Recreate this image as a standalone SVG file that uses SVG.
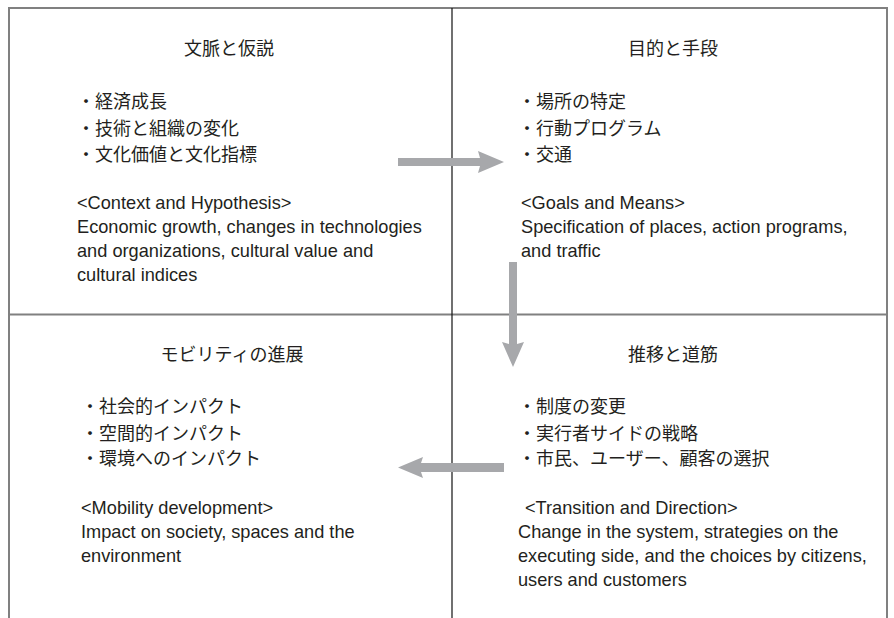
<svg xmlns="http://www.w3.org/2000/svg" width="894" height="618" viewBox="0 0 894 618">
<style>
.jp{font-family:"Noto Sans CJK JP","Noto Sans",sans-serif;font-size:18px;fill:#231f20}
.en{font-family:"Liberation Sans",Arial,sans-serif;font-size:18.2px;fill:#231f20}
.ttl{text-anchor:middle}
.frame{stroke:#808080;stroke-width:2;fill:none}
.mid{stroke:#111;stroke-width:1.2;fill:none}
.arrow{fill:#a7a8ab;stroke:none}
</style>
<rect width="894" height="618" fill="#fff"/>
<g id="frame">
<path class="frame" d="M9,618 V8 H887 V618"/>
<path class="frame" d="M9,314.5 H887"/>
<path class="mid" d="M452,8 V618"/>
</g>
<g id="context">
<text class="jp ttl" x="229" y="55">文脈と仮説</text>
<text class="jp" x="77" y="108">・経済成長</text>
<text class="jp" x="77" y="135">・技術と組織の変化</text>
<text class="jp" x="77" y="161">・文化価値と文化指標</text>
<text class="en" x="77" y="209">&lt;Context and Hypothesis&gt;</text>
<text class="en" x="77" y="233">Economic growth, changes in technologies</text>
<text class="en" x="77" y="257">and organizations, cultural value and</text>
<text class="en" x="77" y="281">cultural indices</text>
</g>
<g id="goals">
<text class="jp ttl" x="673" y="55">目的と手段</text>
<text class="jp" x="518" y="108">・場所の特定</text>
<text class="jp" x="518" y="135">・行動プログラム</text>
<text class="jp" x="518" y="161">・交通</text>
<text class="en" x="521" y="209">&lt;Goals and Means&gt;</text>
<text class="en" x="521" y="233">Specification of places, action programs,</text>
<text class="en" x="521" y="257">and traffic</text>
</g>
<g id="transition">
<text class="jp ttl" x="673" y="361">推移と道筋</text>
<text class="jp" x="518" y="413">・制度の変更</text>
<text class="jp" x="518" y="440">・実行者サイドの戦略</text>
<text class="jp" x="518" y="465">・市民、ユーザー、顧客の選択</text>
<text class="en" x="525" y="514">&lt;Transition and Direction&gt;</text>
<text class="en" x="518" y="538">Change in the system, strategies on the</text>
<text class="en" x="518" y="562">executing side, and the choices by citizens,</text>
<text class="en" x="518" y="586">users and customers</text>
</g>
<g id="mobility">
<text class="jp ttl" x="232" y="361">モビリティの進展</text>
<text class="jp" x="81" y="413">・社会的インパクト</text>
<text class="jp" x="81" y="440">・空間的インパクト</text>
<text class="jp" x="81" y="465">・環境へのインパクト</text>
<text class="en" x="81" y="514">&lt;Mobility development&gt;</text>
<text class="en" x="81" y="538">Impact on society, spaces and the</text>
<text class="en" x="81" y="562">environment</text>
</g>
<g id="connectors">
<path class="arrow" d="M398,158 H480 L478,151 L504,162 L478,173 L480,166 H398 Z"/>
<path class="arrow" d="M509,262 V344 L502,342 L513,367 L524,342 L517,344 V262 Z"/>
<path class="arrow" d="M504,463 H421 L423,457 L398,467.5 L423,478 L421,472 H504 Z"/>
</g>
</svg>
